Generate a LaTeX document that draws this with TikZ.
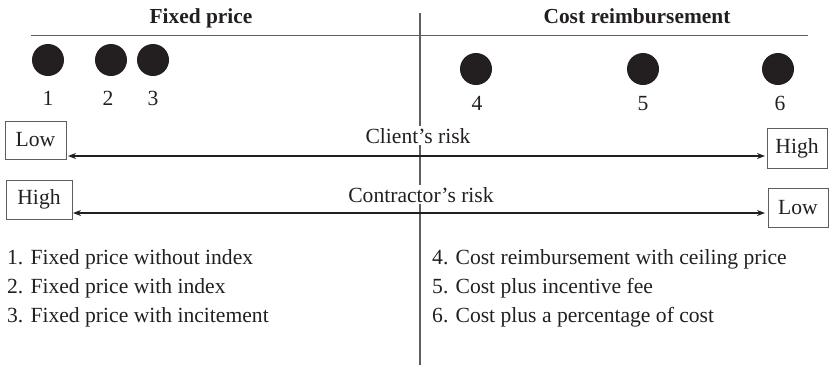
\documentclass[tikz,border=0pt]{standalone}
\usepackage{fontspec}
\setmainfont{Liberation Serif}
\usetikzlibrary{arrows.meta}
\definecolor{ink}{HTML}{231F20}
\definecolor{rule}{HTML}{5E5E5E}
\tikzset{
  txt/.style={font=\fontsize{21.6}{25}\selectfont, text=ink, inner sep=1pt},
  head/.style={txt, font=\fontsize{21.4}{25}\selectfont\bfseries},
  dot/.style={circle, fill=ink, minimum size=32pt, inner sep=0pt},
  riskbox/.style={txt, draw=rule, line width=0.8pt, minimum height=38pt, inner xsep=8pt},
  lbl/.style={txt, fill=white, inner sep=2pt},
  riskarrow/.style={draw=ink, line width=1.5pt, {Stealth[length=8pt,width=6pt]}-{Stealth[length=8pt,width=6pt]}},
  divider/.style={draw=rule, line width=1.1pt}
}
\begin{document}
\begin{tikzpicture}[x=1pt,y=-1pt]
\useasboundingbox (0,0) rectangle (829,365);
% dividers
\coordinate (vtop) at (420,13);
\coordinate (vbot) at (420,365);
\coordinate (hl) at (31,35.5);
\coordinate (hr) at (808,35.5);
\draw[divider] (vtop) -- (vbot);
\draw[divider] (hl) -- (hr);
% headings
\node[head, anchor=base] (hfix) at (201,23) {Fixed price};
\node[head, anchor=base] (hcost) at (637,23) {Cost reimbursement};
% dots
\node[dot] (d1) at (48,60) {};
\node[dot] (d2) at (111,60) {};
\node[dot] (d3) at (153,60) {};
\node[dot] (d4) at (476,69) {};
\node[dot] (d5) at (643,69) {};
\node[dot] (d6) at (778,69) {};
\node[txt, anchor=base] (n1) at (48,105) {1};
\node[txt, anchor=base] (n2) at (108,105) {2};
\node[txt, anchor=base] (n3) at (153,105) {3};
\node[txt, anchor=base] (n4) at (477,110) {4};
\node[txt, anchor=base] (n5) at (643,110) {5};
\node[txt, anchor=base] (n6) at (780,110) {6};
% risk boxes
\node[riskbox, minimum width=61pt] (lowL) at (35.5,140) {Low};
\node[riskbox, minimum width=66pt, minimum height=39pt] (highL) at (39,199.5) {High};
\node[riskbox, minimum width=60pt, minimum height=40pt] (highR) at (797,148) {High};
\node[riskbox, minimum width=60pt, minimum height=39pt] (lowR) at (798,207.5) {Low};
% arrows
\coordinate (a1l) at (68,156);
\coordinate (a1r) at (765,156);
\coordinate (a2l) at (73,213);
\coordinate (a2r) at (765,213);
\draw[riskarrow] (a1l) -- (a1r);
\draw[riskarrow] (a2l) -- (a2r);
\node[lbl, anchor=base] (crisk) at (418,143) {Client’s risk};
\node[lbl, anchor=base] (krisk) at (421,202) {Contractor’s risk};
% legends
\node[txt, anchor=base west] (l1) at (6,264) {1. Fixed price without index};
\node[txt, anchor=base west] (l2) at (6,293) {2. Fixed price with index};
\node[txt, anchor=base west] (l3) at (6,322) {3. Fixed price with incitement};
\node[txt, anchor=base west] (l4) at (431,264) {4. Cost reimbursement with ceiling price};
\node[txt, anchor=base west] (l5) at (431,293) {5. Cost plus incentive fee};
\node[txt, anchor=base west] (l6) at (431,322) {6. Cost plus a percentage of cost};
\end{tikzpicture}
\end{document}
